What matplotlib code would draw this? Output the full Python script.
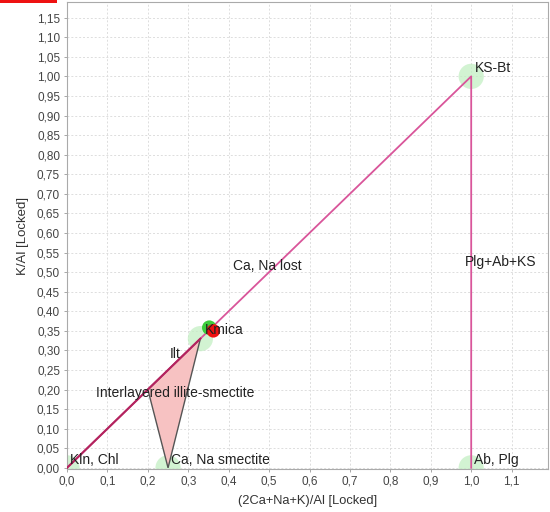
import matplotlib
matplotlib.use("Agg")
import matplotlib.pyplot as plt
from matplotlib.patches import Polygon, Rectangle
from matplotlib.ticker import FuncFormatter, MultipleLocator

plt.rcParams['font.family'] = ['Liberation Sans', 'DejaVu Sans']

# Weathering trend: origin -> KS-Bt -> Ab, Plg
trend_x = [0.0, 1.0, 1.0]
trend_y = [0.0, 1.0, 0.0]
# Illite segment along the trend line
ilt_x = [0.0, 0.33]
ilt_y = [0.0, 0.33]
# Interlayered illite-smectite field
field_x = [0.2, 0.33, 0.25]
field_y = [0.2, 0.33, 0.0]

# Mineral end-members (green halos)
mineral_names = ["Kln, Chl", "Ca, Na smectite", "Ilt", "KS-Bt", "Ab, Plg"]
mineral_x = [0.0, 0.25, 0.33, 1.0, 1.0]
mineral_y = [0.0, 0.0, 0.33, 1.0, 0.0]

# Kmica reference and sample point
kmica_x, kmica_y = 0.352, 0.358
sample_x, sample_y = 0.362, 0.350

fig = plt.figure(figsize=(5.5, 5.12), dpi=100)
ax = fig.add_axes([67/550, 1 - 469/512, (548 - 67)/550, (469 - 2)/512])

ax.set_xlim(0, 1.19)
ax.set_ylim(-0.003, 1.19)

ax.xaxis.set_major_locator(MultipleLocator(0.1))
ax.yaxis.set_major_locator(MultipleLocator(0.05))
ax.xaxis.set_major_formatter(FuncFormatter(lambda v, p: f"{v:.1f}".replace('.', ',') if v < 1.15 else ""))
ax.yaxis.set_major_formatter(FuncFormatter(lambda v, p: f"{v:.2f}".replace('.', ',') if v < 1.18 else ""))
ax.tick_params(labelsize=8.5, colors='#444444', length=2, width=0.6, pad=3, color='#999999')
ax.grid(True, color='#dddddd', linestyle=(0, (2, 2)), linewidth=0.7)
ax.set_axisbelow(True)
for s in ax.spines.values():
    s.set_color('#aaaaaa')
    s.set_linewidth(0.8)

ax.set_xlabel("(2Ca+Na+K)/Al [Locked]", fontsize=9.3, color='#333333', labelpad=5)
ax.set_ylabel("K/Al [Locked]", fontsize=9.5, color='#333333', labelpad=6)

# Green halos at end-members
ax.scatter(mineral_x, mineral_y, s=330, color='#c4efc4', alpha=0.75, edgecolors='none', zorder=2)

# Interlayered illite-smectite field
ax.add_patch(Polygon(list(zip(field_x, field_y)), closed=True, facecolor='#f7c2c2',
                     edgecolor='#555555', linewidth=1.0, zorder=3))

ax.plot(trend_x, trend_y, color='#d9559a', linewidth=1.3, zorder=4)
ax.plot(ilt_x, ilt_y, color='#b3245e', linewidth=1.5, zorder=4)

ax.scatter([kmica_x], [kmica_y], s=110, color='#3ccc3c', edgecolors='none', zorder=5)
ax.scatter([sample_x], [sample_y], s=95, color='#ee1111', edgecolors='none', zorder=6)

tc = '#222222'
fs = 10
ax.text(0.008, 0.003, "Kln, Chl", fontsize=fs, color=tc, ha='left', va='bottom', zorder=7)
ax.text(0.258, 0.003, "Ca, Na smectite", fontsize=fs, color=tc, ha='left', va='bottom', zorder=7)
ax.text(1.008, 0.003, "Ab, Plg", fontsize=fs, color=tc, ha='left', va='bottom', zorder=7)
ax.text(1.008, 1.003, "KS-Bt", fontsize=fs, color=tc, ha='left', va='bottom', zorder=7)
ax.text(0.34, 0.352, "Kmica", fontsize=fs, color=tc, ha='left', va='center', zorder=7)
ax.text(0.268, 0.29, "Ilt", fontsize=fs, color=tc, ha='center', va='center', zorder=7)
ax.text(0.267, 0.19, "Interlayered illite-smectite", fontsize=fs, color=tc, ha='center', va='center', zorder=7)
ax.text(0.41, 0.515, "Ca, Na lost", fontsize=fs, color=tc, ha='left', va='center', zorder=7)
ax.text(0.985, 0.527, "Plg+Ab+KS", fontsize=fs, color=tc, ha='left', va='center', zorder=7)

# Red tab marker in the corner
fig.patches.append(Rectangle((0, 1 - 3/512), 57/550, 3/512, transform=fig.transFigure,
                             facecolor='#ee1111', edgecolor='none'))

fig.savefig("out.png", dpi=100)
